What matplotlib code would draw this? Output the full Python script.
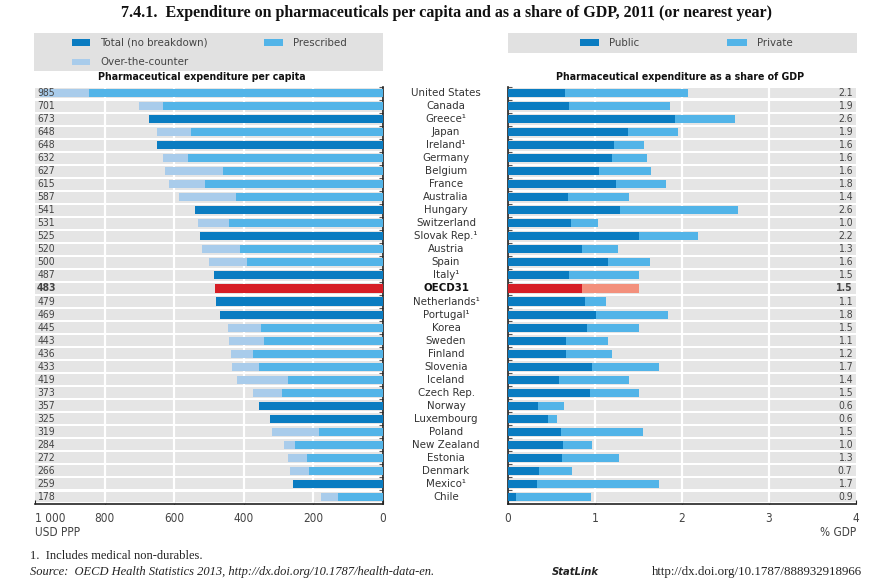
import matplotlib
matplotlib.use("Agg")
import matplotlib.pyplot as plt
from matplotlib.patches import Rectangle
import matplotlib.transforms as mtransforms

countries = ["United States", "Canada", "Greece¹", "Japan", "Ireland¹", "Germany", "Belgium",
             "France", "Australia", "Hungary", "Switzerland", "Slovak Rep.¹", "Austria", "Spain",
             "Italy¹", "OECD31", "Netherlands¹", "Portugal¹", "Korea", "Sweden", "Finland",
             "Slovenia", "Iceland", "Czech Rep.", "Norway", "Luxembourg", "Poland", "New Zealand",
             "Estonia", "Denmark", "Mexico¹", "Chile"]

per_capita_total = [985, 701, 673, 648, 648, 632, 627, 615, 587, 541, 531, 525, 520, 500, 487, 483,
                    479, 469, 445, 443, 436, 433, 419, 373, 357, 325, 319, 284, 272, 266, 259, 178]
prescribed = [844, 632, None, 553, None, 559, 461, 512, 422, None, 442, None, 411, 391, None, None,
              None, None, 351, 341, 374, 356, 273, 291, None, None, 184, 253, 218, 213, None, 129]
otc = [141, 69, None, 95, None, 73, 166, 103, 165, None, 89, None, 109, 109, None, None,
       None, None, 94, 102, 62, 77, 146, 82, None, None, 135, 31, 54, 53, None, 49]

gdp_public = [0.66, 0.70, 1.92, 1.38, 1.22, 1.20, 1.05, 1.24, 0.69, 1.29, 0.72, 1.51, 0.85, 1.15,
              0.70, 0.85, 0.88, 1.01, 0.91, 0.67, 0.67, 0.96, 0.59, 0.94, 0.35, 0.46, 0.61, 0.63,
              0.62, 0.36, 0.33, 0.09]
gdp_private = [1.41, 1.16, 0.69, 0.57, 0.34, 0.40, 0.59, 0.58, 0.70, 1.35, 0.32, 0.67, 0.42, 0.48,
               0.80, 0.66, 0.25, 0.83, 0.59, 0.48, 0.53, 0.77, 0.80, 0.57, 0.29, 0.10, 0.94, 0.34,
               0.66, 0.37, 1.41, 0.86]
gdp_labels = ["2.1", "1.9", "2.6", "1.9", "1.6", "1.6", "1.6", "1.8", "1.4", "2.6", "1.0", "2.2",
              "1.3", "1.6", "1.5", "1.5", "1.1", "1.8", "1.5", "1.1", "1.2", "1.7", "1.4", "1.5",
              "0.6", "0.6", "1.5", "1.0", "1.3", "0.7", "1.7", "0.9"]

left_ticks = [1000, 800, 600, 400, 200, 0]
left_ticklabels = ["1 000", "800", "600", "400", "200", "0"]
right_ticks = [0, 1, 2, 3, 4]
right_ticklabels = ["0", "1", "2", "3", "4"]

DARK = "#0a7cc1"
PRESC = "#52b4e8"
OTC_C = "#a9cceb"
RED = "#d61e26"
SALMON = "#f3907c"
GREY = "#e5e5e5"
LEGBG = "#e1e1e1"
TXT = "#333333"

plt.rcParams["font.family"] = ["DejaVu Sans"]
plt.rcParams["font.stretch"] = "condensed"
SERIF = "Liberation Serif"

W, H = 872, 585
fig = plt.figure(figsize=(W / 100, H / 100), dpi=100)

def fx(px):
    return px / W

def fy(py):
    return 1 - py / H

ax_top, ax_bot = 86.5, 503.5
axL = fig.add_axes([fx(35), fy(ax_bot), fx(348), (ax_bot - ax_top) / H])
axR = fig.add_axes([fx(508), fy(ax_bot), fx(348), (ax_bot - ax_top) / H])

n = len(countries)
ys = list(range(n))

# Left panel
axL.set_xlim(1000, 0)
axL.set_ylim(n - 0.5, -0.5)
axL.barh(ys, [1000] * n, left=0, height=0.84, color=GREY, zorder=1)
for xv in [200, 400, 600, 800]:
    axL.axvline(xv, color="white", lw=1.6, zorder=2)
for i in range(n):
    if countries[i] == "OECD31":
        axL.barh(i, per_capita_total[i], height=0.62, color=RED, zorder=3)
    elif prescribed[i] is None:
        axL.barh(i, per_capita_total[i], height=0.62, color=DARK, zorder=3)
    else:
        axL.barh(i, prescribed[i], height=0.62, color=PRESC, zorder=3)
        axL.barh(i, otc[i], left=prescribed[i], height=0.62, color=OTC_C, zorder=3)
    axL.text(0.006, i, str(per_capita_total[i]), transform=mtransforms.blended_transform_factory(axL.transAxes, axL.transData),
             ha="left", va="center", fontsize=7.5, color="#444444", zorder=4,
             fontweight="bold" if countries[i] == "OECD31" else "normal")

# Right panel
axR.set_xlim(0, 4)
axR.set_ylim(n - 0.5, -0.5)
axR.barh(ys, [4] * n, left=0, height=0.84, color=GREY, zorder=1)
for xv in [1, 2, 3]:
    axR.axvline(xv, color="white", lw=1.6, zorder=2)
for i in range(n):
    c1, c2 = (RED, SALMON) if countries[i] == "OECD31" else (DARK, PRESC)
    axR.barh(i, gdp_public[i], height=0.62, color=c1, zorder=3)
    axR.barh(i, gdp_private[i], left=gdp_public[i], height=0.62, color=c2, zorder=3)
    axR.text(0.99, i, gdp_labels[i], transform=mtransforms.blended_transform_factory(axR.transAxes, axR.transData),
             ha="right", va="center", fontsize=7.5, color="#444444", zorder=4,
             fontweight="bold" if countries[i] == "OECD31" else "normal")

for ax, side in [(axL, "right"), (axR, "left")]:
    for s in ["top", "left", "right", "bottom"]:
        ax.spines[s].set_visible(False)
    ax.spines[side].set_visible(True)
    ax.spines["bottom"].set_visible(True)
    ax.spines[side].set_color("#222222")
    ax.spines["bottom"].set_color("#222222")
    ax.spines[side].set_linewidth(1.2)
    ax.spines["bottom"].set_linewidth(1.2)
    ax.set_yticks([i - 0.5 for i in range(n)])
    ax.set_yticklabels([])
    ax.tick_params(axis="y", direction="in", length=3, width=0.8, color="#555555",
                   left=(side == "left"), right=(side == "right"))
    ax.tick_params(axis="x", direction="in", length=3, width=0.8, color="#222222", pad=6,
                   labelsize=8.5, labelcolor="#444444")

axL.set_xticks(left_ticks)
axL.set_xticklabels(left_ticklabels)
axL.get_xticklabels()[0].set_horizontalalignment("left")
axR.set_xticks(right_ticks)
axR.set_xticklabels(right_ticklabels)

# Country labels
for i in range(n):
    yp = axL.transData.transform((0, i))[1]
    fig.text(fx(446), yp / fig.dpi / fig.get_figheight(), countries[i], ha="center", va="center",
             fontsize=8.2, color=TXT if countries[i] != "OECD31" else "#111111",
             fontweight="bold" if countries[i] == "OECD31" else "normal")

fig.text(fx(35), fy(533), "USD PPP", ha="left", va="center", fontsize=8.5, color="#444444")
fig.text(fx(856), fy(533), "% GDP", ha="right", va="center", fontsize=8.5, color="#444444")

# Title
fig.text(fx(446), fy(13), "7.4.1.  Expenditure on pharmaceuticals per capita and as a share of GDP, 2011 (or nearest year)",
         ha="center", va="center", fontsize=11.5, fontweight="bold", family=SERIF, color="#111111")

# Legend boxes
fig.patches.append(Rectangle((fx(34), fy(70.5)), fx(349), (70.5 - 33) / H, transform=fig.transFigure,
                             facecolor=LEGBG, edgecolor="none", zorder=0))
fig.patches.append(Rectangle((fx(508), fy(52.5)), fx(349), (52.5 - 33) / H, transform=fig.transFigure,
                             facecolor=LEGBG, edgecolor="none", zorder=0))

def swatch(x0, x1, yc, color, label):
    fig.patches.append(Rectangle((fx(x0), fy(yc + 3.3)), fx(x1 - x0), 6.6 / H, transform=fig.transFigure,
                                 facecolor=color, edgecolor="none", zorder=1))
    fig.text(fx(x1 + 10), fy(yc), label, ha="left", va="center", fontsize=8.2, color="#444444")

swatch(72, 90, 42.5, DARK, "Total (no breakdown)")
swatch(264, 283, 42.5, PRESC, "Prescribed")
swatch(72, 90, 62, OTC_C, "Over-the-counter")
swatch(580, 599, 42.5, DARK, "Public")
swatch(727, 747, 42.5, PRESC, "Private")

fig.text(fx(202), fy(77.5), "Pharmaceutical expenditure per capita", ha="center", va="center",
         fontsize=7.6, fontweight="bold", color="#111111")
fig.text(fx(680), fy(77.5), "Pharmaceutical expenditure as a share of GDP", ha="center", va="center",
         fontsize=7.6, fontweight="bold", color="#111111")

# Footer
fig.text(fx(30), fy(556), "1.  Includes medical non-durables.", ha="left", va="center",
         fontsize=9, family=SERIF, color="#222222")
fig.text(fx(30), fy(572), "Source:  OECD Health Statistics 2013, http://dx.doi.org/10.1787/health-data-en.",
         ha="left", va="center", fontsize=9, family=SERIF, style="italic", color="#222222")
fig.text(fx(552), fy(572), "StatLink", ha="left", va="center", fontsize=8, family="DejaVu Sans",
         style="italic", fontweight="bold", color="#222222")
fig.text(fx(862), fy(572), "http://dx.doi.org/10.1787/888932918966", ha="right", va="center",
         fontsize=9.3, family=SERIF, color="#222222")

fig.savefig("out.png", dpi=100)
